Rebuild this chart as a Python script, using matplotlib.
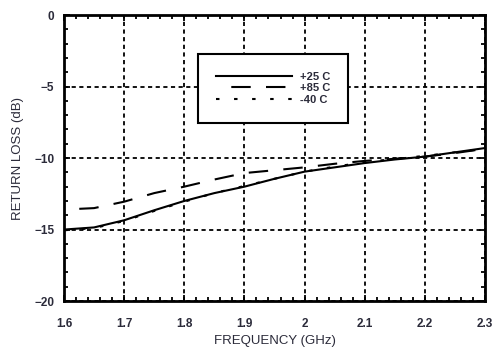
import matplotlib
matplotlib.use("Agg")
import matplotlib.pyplot as plt
from matplotlib.ticker import MultipleLocator, FixedLocator

plt.rcParams['font.family'] = ['Liberation Sans', 'DejaVu Sans']
plt.rcParams['lines.scale_dashes'] = False

# Frequency sweep (GHz)
freq = [1.60, 1.65, 1.70, 1.75, 1.80, 1.85, 1.90, 1.95, 2.00, 2.05, 2.10, 2.15, 2.20, 2.25, 2.30]

# Return loss (dB) at three temperatures
rl_p25 = [-15.0, -14.85, -14.35, -13.65, -13.0, -12.45, -12.0, -11.45, -10.95, -10.65, -10.35, -10.1, -9.9, -9.6, -9.3]
rl_p85 = [-13.6, -13.5, -13.05, -12.45, -12.0, -11.5, -11.05, -10.85, -10.65, -10.4, -10.2, -10.05, -9.9, -9.65, -9.35]
rl_m40 = [-15.05, -14.9, -14.4, -13.7, -13.05, -12.45, -11.95, -11.45, -10.95, -10.6, -10.3, -10.05, -9.85, -9.6, -9.35]

labels = ["+25 C", "+85 C", "-40 C"]
x_ticks = [1.6, 1.7, 1.8, 1.9, 2.0, 2.1, 2.2, 2.3]
x_ticklabels = ["1.6", "1.7", "1.8", "1.9", "2", "2.1", "2.2", "2.3"]
y_ticks = [0, -5, -10, -15, -20]

text_color = "#2b2b3a"

fig = plt.figure(figsize=(4.95, 3.58), dpi=100)
ax = fig.add_axes([0.1293, 0.159, 0.8505, 0.799])

ax.plot(freq, rl_p25, color="black", lw=1.5, label=labels[0])
ax.plot(freq, rl_p85, color="black", lw=1.5, linestyle=(14, (14, 11)), label=labels[1])
ax.plot(freq, rl_m40, color="black", lw=1.5, linestyle=(0, (2.5, 10.5)), label=labels[2])

ax.set_xlim(1.6, 2.3)
ax.set_ylim(-20, 0)
ax.xaxis.set_major_locator(FixedLocator(x_ticks))
ax.set_xticklabels(x_ticklabels)
ax.yaxis.set_major_locator(FixedLocator(y_ticks))
ax.xaxis.set_minor_locator(MultipleLocator(0.02))
ax.yaxis.set_minor_locator(MultipleLocator(1))

ax.grid(True, which="major", color="black", lw=1.3, linestyle=(0, (3, 2.5)))

ax.tick_params(which="both", direction="in", top=True, right=True, color="black",
               width=1.3)
ax.tick_params(which="major", length=4, labelsize=8.5, labelcolor=text_color)
ax.tick_params(axis="x", which="major", pad=12)
ax.tick_params(axis="y", which="major", pad=7)
ax.tick_params(which="minor", length=3)
for lbl in ax.get_xticklabels() + ax.get_yticklabels():
    lbl.set_fontweight("bold")

for sp in ax.spines.values():
    sp.set_linewidth(2.0)
    sp.set_color("black")

ax.set_xlabel("FREQUENCY (GHz)", fontsize=9.5, color=text_color, labelpad=4)
ax.set_ylabel("RETURN LOSS (dB)", fontsize=9.5, color=text_color, labelpad=7)

leg = ax.legend(loc="upper left", bbox_to_anchor=(0.318, 0.864), fontsize=8,
                handlelength=6.9, handletextpad=0.7, borderpad=1.6, labelspacing=0.15,
                fancybox=False, framealpha=1, edgecolor="black", borderaxespad=0)
leg.get_frame().set_linewidth(1.5)
for t in leg.get_texts():
    t.set_fontweight("bold")
    t.set_color(text_color)

fig.savefig("out.png", dpi=100)
